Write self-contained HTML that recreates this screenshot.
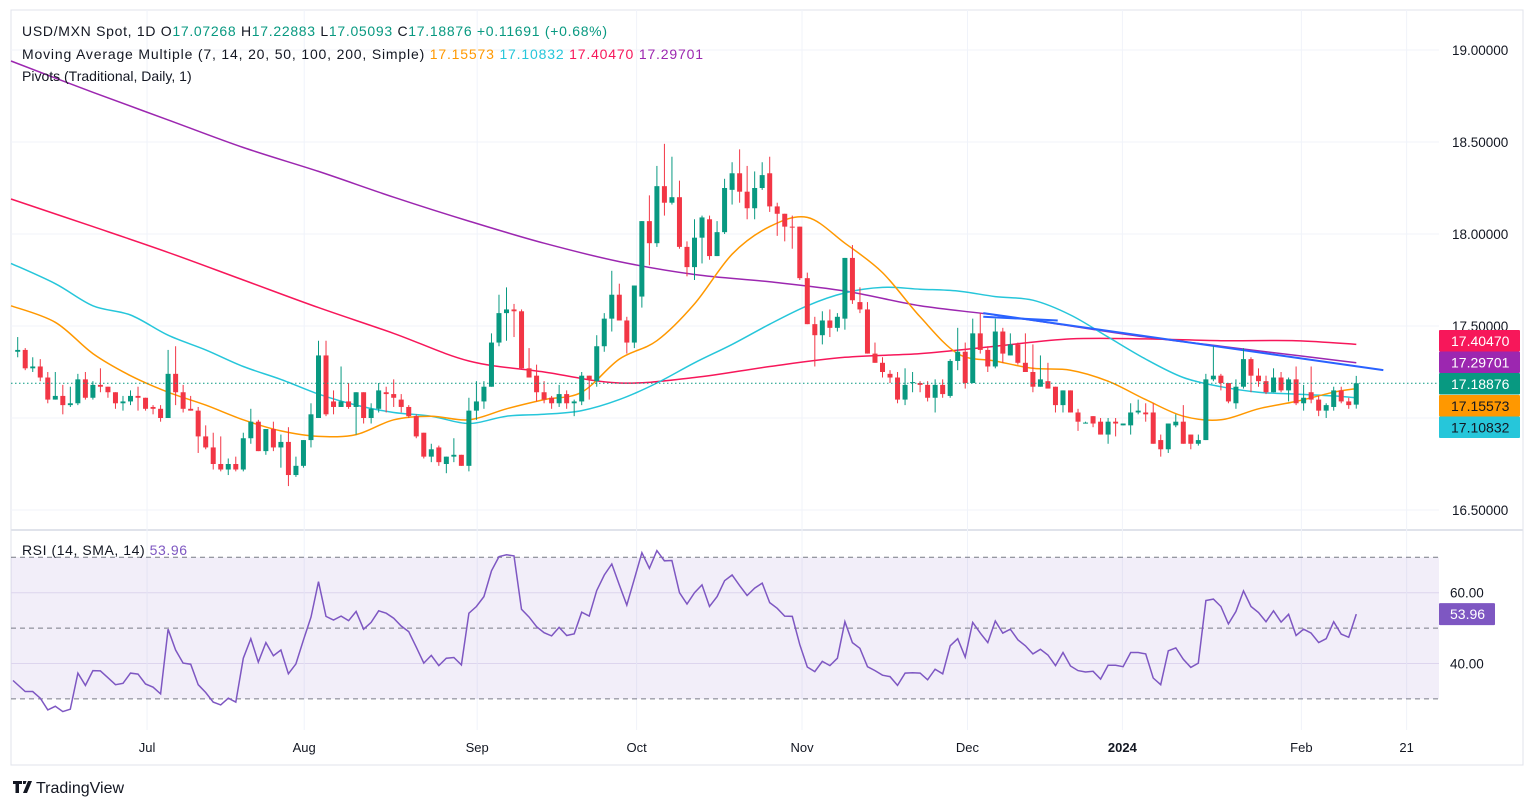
<!DOCTYPE html>
<html><head><meta charset="utf-8"><title>USD/MXN Daily</title>
<style>
html,body{margin:0;padding:0;background:#fff;}
svg{display:block;font-family:"Liberation Sans","DejaVu Sans",sans-serif;}
</style></head>
<body>
<svg id="chart" width="1536" height="810" viewBox="0 0 1536 810" xmlns="http://www.w3.org/2000/svg">
<rect x="0" y="0" width="1536" height="810" fill="#ffffff"/>
<g id="grid"></g>
<rect x="11" y="557.3" width="1428" height="141.7" fill="rgba(126,87,194,0.1)"/>
<g id="rsiGuides"></g>
<g id="mas"></g>
<g id="candles"></g>
<g id="rsi"></g>
<g id="axes"></g>
<g id="legend">
 <text x="22" y="36" font-size="14" fill="#131722" textLength="585" lengthAdjust="spacing">USD/MXN Spot, 1D  <tspan fill="#131722">O</tspan><tspan fill="#089981">17.07268</tspan>  <tspan fill="#131722">H</tspan><tspan fill="#089981">17.22883</tspan>  <tspan fill="#131722">L</tspan><tspan fill="#089981">17.05093</tspan>  <tspan fill="#131722">C</tspan><tspan fill="#089981">17.18876</tspan>  <tspan fill="#089981">+0.11691 (+0.68%)</tspan></text>
 <text x="22" y="59" font-size="14" fill="#131722" textLength="681" lengthAdjust="spacing">Moving Average Multiple (7, 14, 20, 50, 100, 200, Simple)  <tspan fill="#FF9800">17.15573</tspan>  <tspan fill="#26C6DA">17.10832</tspan>  <tspan fill="#F7175A">17.40470</tspan>  <tspan fill="#9C27B0">17.29701</tspan></text>
 <text x="22" y="81" font-size="14" fill="#131722">Pivots (Traditional, Daily, 1)</text>
 <text x="22" y="555" font-size="14" fill="#131722" textLength="165" lengthAdjust="spacing">RSI (14, SMA, 14)  <tspan fill="#7E57C2">53.96</tspan></text>
</g>
<g>
 <path d="M13 781h9v3h-3v9h-3.5v-9H13z M23 781h3.5l-1 3h-2.5z M28 781h4l-5 12h-4z" fill="#131722"/>
 <text x="36" y="793" font-size="16" fill="#131722">TradingView</text>
</g>
</svg>
<script>
// ---- data ----
const opens = [17.36,17.37,17.27,17.28,17.22,17.10,17.12,17.07,17.08,17.21,
17.11,17.18,17.17,17.14,17.08,17.09,17.12,17.11,17.06,17.05,
17.00,17.24,17.14,17.05,17.04,16.90,16.84,16.75,16.72,16.75,
16.72,16.89,16.98,16.82,16.94,16.84,16.87,16.69,16.74,16.88,
17.00,17.34,17.09,17.06,17.09,17.06,17.14,17.00,17.05,17.14,
17.13,17.10,17.06,17.01,16.92,16.79,16.84,16.75,16.79,16.80,
16.74,17.04,17.09,17.17,17.41,17.57,17.59,17.58,17.27,17.23,
17.14,17.11,17.08,17.13,17.08,17.09,17.23,17.20,17.39,17.54,
17.67,17.53,17.41,17.66,18.07,17.95,18.26,18.17,18.20,17.93,
17.82,17.98,18.08,17.88,18.01,18.24,18.33,18.23,18.14,18.25,
18.33,18.15,18.11,18.04,18.04,17.76,17.51,17.45,17.53,17.49,
17.54,17.87,17.63,17.59,17.35,17.30,17.24,17.22,17.10,17.19,
17.19,17.18,17.11,17.18,17.12,17.31,17.36,17.19,17.46,17.37,
17.28,17.47,17.34,17.40,17.30,17.25,17.17,17.20,17.17,17.07,
17.15,17.03,16.97,17.01,16.98,16.91,16.98,16.96,16.96,17.03,
17.03,17.03,16.88,16.83,16.96,16.98,16.91,16.86,16.88,17.21,
17.23,17.19,17.08,17.17,17.32,17.23,17.20,17.14,17.22,17.15,
17.21,17.08,17.14,17.10,17.04,17.06,17.15,17.09,17.07268];
const highs = [17.44,17.38,17.33,17.32,17.25,17.25,17.18,17.17,17.24,17.25,
17.20,17.27,17.17,17.14,17.12,17.15,17.17,17.11,17.07,17.07,
17.37,17.39,17.18,17.12,17.06,16.96,16.92,16.90,16.78,16.79,
16.92,17.05,16.99,16.94,16.98,16.91,16.95,16.79,16.88,17.08,
17.42,17.42,17.15,17.28,17.19,17.14,17.14,17.08,17.19,17.17,
17.21,17.13,17.07,17.02,16.92,16.86,16.85,16.79,16.89,16.80,
17.11,17.20,17.20,17.46,17.67,17.71,17.62,17.59,17.38,17.29,
17.20,17.12,17.18,17.15,17.10,17.25,17.23,17.45,17.57,17.80,
17.73,17.55,17.72,18.07,18.21,18.37,18.49,18.42,18.29,17.96,
18.08,18.10,18.10,18.07,18.30,18.39,18.46,18.37,18.34,18.39,
18.42,18.17,18.11,18.10,18.04,17.79,17.55,17.58,17.59,17.57,
17.87,17.94,17.71,17.63,17.41,17.33,17.26,17.25,17.27,17.25,
17.20,17.20,17.21,17.21,17.32,17.49,17.41,17.54,17.57,17.39,
17.54,17.49,17.46,17.41,17.46,17.40,17.34,17.30,17.17,17.15,
17.15,17.05,16.98,17.01,17.00,17.00,17.00,16.97,17.08,17.10,
17.08,17.08,16.91,16.97,17.02,17.07,16.91,16.91,17.24,17.39,
17.24,17.19,17.21,17.38,17.33,17.27,17.23,17.27,17.25,17.22,
17.28,17.18,17.28,17.12,17.08,17.17,17.17,17.11,17.22883];
const lows = [17.33,17.26,17.25,17.20,17.08,17.10,17.02,17.06,17.07,17.10,
17.10,17.14,17.11,17.05,17.04,17.07,17.04,17.04,17.02,16.98,
17.00,17.07,17.03,17.04,16.81,16.83,16.72,16.71,16.69,16.71,
16.71,16.86,16.82,16.80,16.82,16.73,16.63,16.68,16.73,16.84,
17.00,17.01,17.02,17.06,17.05,16.91,16.97,16.97,17.03,17.03,
17.06,17.03,17.00,16.89,16.78,16.76,16.74,16.70,16.76,16.74,
16.71,16.99,17.05,17.17,17.39,17.42,17.44,17.27,17.22,17.09,
17.08,17.05,17.06,17.05,17.01,17.07,17.10,17.17,17.36,17.47,
17.53,17.35,17.38,17.60,17.83,17.93,18.10,18.16,17.92,17.77,
17.75,17.84,17.86,17.88,18.00,18.16,18.17,18.08,18.08,18.24,
18.12,17.99,17.96,17.92,17.75,17.51,17.28,17.40,17.44,17.47,
17.48,17.62,17.57,17.35,17.30,17.22,17.19,17.08,17.07,17.14,
17.14,17.09,17.03,17.11,17.11,17.26,17.16,17.19,17.35,17.25,
17.27,17.30,17.34,17.29,17.25,17.14,17.17,17.16,17.03,17.03,
17.03,16.93,16.97,16.95,16.91,16.86,16.90,16.96,16.91,17.02,
16.98,16.86,16.79,16.81,16.95,16.86,16.83,16.85,16.88,17.20,
17.15,17.08,17.05,17.16,17.14,17.17,17.13,17.14,17.14,17.09,
17.07,17.04,17.08,17.01,17.00,17.04,17.08,17.05,17.05093];
const closes = [17.37,17.27,17.28,17.22,17.10,17.12,17.07,17.08,17.21,17.11,
17.18,17.17,17.14,17.08,17.09,17.12,17.11,17.05,17.05,17.00,
17.24,17.14,17.05,17.04,16.90,16.84,16.75,16.72,16.75,16.72,
16.89,16.98,16.82,16.94,16.84,16.87,16.69,16.74,16.88,17.02,
17.34,17.02,17.06,17.09,17.06,17.14,17.00,17.05,17.15,17.13,
17.11,17.06,17.01,16.90,16.79,16.83,16.76,16.79,16.80,16.74,
17.04,17.09,17.17,17.41,17.57,17.59,17.58,17.27,17.22,17.14,
17.10,17.08,17.13,17.08,17.09,17.23,17.21,17.39,17.54,17.67,
17.53,17.41,17.72,18.07,17.95,18.26,18.17,18.20,17.93,17.82,
17.98,18.09,17.88,18.01,18.25,18.33,18.23,18.14,18.25,18.32,
18.15,18.11,18.04,18.035,17.76,17.51,17.45,17.53,17.49,17.55,
17.87,17.64,17.59,17.35,17.30,17.25,17.22,17.10,17.18,17.195,
17.18,17.11,17.18,17.13,17.31,17.36,17.19,17.46,17.37,17.28,
17.47,17.35,17.40,17.30,17.25,17.17,17.21,17.16,17.07,17.15,
17.03,16.98,16.975,16.97,16.91,16.98,16.97,16.97,17.03,17.04,
17.02,16.86,16.83,16.97,16.98,16.86,16.86,16.88,17.21,17.23,
17.19,17.09,17.17,17.32,17.23,17.20,17.14,17.22,17.15,17.21,
17.08,17.11,17.10,17.04,17.07,17.15,17.09,17.07,17.18876];
const rsiValues = [35.2,32.1,32.1,30.2,26.9,27.9,26.4,27.1,37.3,33.8,
38.0,37.9,36.0,34.0,34.4,37.3,37.0,34.2,33.3,31.4,
49.7,43.8,40.1,39.8,34.0,31.8,29.1,28.3,30.2,29.1,
41.5,47.0,40.4,45.9,42.2,43.8,37.1,39.9,46.7,53.1,
63.1,53.3,52.3,53.4,52.1,54.7,49.7,51.6,54.9,54.2,
52.8,50.6,49.0,44.6,40.1,42.3,39.4,41.5,41.7,39.6,
54.2,56.1,58.9,66.2,70.2,70.7,70.4,55.3,53.1,50.4,
48.7,47.8,50.2,47.9,48.4,54.5,53.4,60.6,65.0,68.1,
62.2,56.5,63.8,71.3,66.9,71.9,69.0,69.1,60.0,56.8,
60.0,62.2,56.1,58.9,63.4,65.0,62.0,59.2,61.3,62.7,
57.2,55.6,53.4,53.3,45.3,39.0,37.7,40.6,39.4,41.5,
51.8,45.9,44.3,39.1,38.0,36.7,36.3,33.8,37.3,37.4,
37.3,35.4,38.4,37.1,45.0,47.0,41.8,51.6,48.6,45.9,
52.0,48.6,49.7,46.7,45.0,42.7,44.0,42.4,39.4,43.1,
39.3,38.0,37.6,37.8,35.6,39.5,39.5,39.1,43.1,43.1,
42.7,35.9,34.0,43.6,44.4,41.2,38.9,40.1,57.8,58.2,
56.1,51.2,54.7,60.5,56.1,54.4,51.8,54.9,51.7,53.9,
47.9,49.7,48.6,45.9,47.0,51.8,48.3,47.4,53.96];
const maIdxFine = [0,5,10,15,20,25,30,35,40,45,50,55,60,65,70,75,80,85,90,95,100,105,110,115,120,125,130,135,140,145,150,155,160,165,170,175,178];
const sma20 = [17.61,17.52,17.35,17.23,17.14,17.07,16.99,16.93,16.90,16.91,16.99,17.01,16.99,17.05,17.10,17.14,17.32,17.42,17.62,17.89,18.04,18.09,17.95,17.79,17.55,17.35,17.31,17.27,17.26,17.20,17.10,17.01,16.99,17.05,17.09,17.14,17.16];
const sma50 = [17.84,17.73,17.61,17.56,17.45,17.37,17.28,17.21,17.13,17.07,17.03,17.01,16.97,17.01,17.02,17.04,17.10,17.19,17.30,17.40,17.51,17.61,17.68,17.71,17.70,17.69,17.66,17.64,17.56,17.44,17.32,17.22,17.17,17.14,17.13,17.12,17.11];
const maIdxCoarse = [0,10,20,30,40,50,60,70,80,90,100,110,120,130,140,150,160,170,178];
const sma100 = [18.19,18.04,17.90,17.75,17.60,17.46,17.31,17.25,17.19,17.22,17.28,17.33,17.35,17.39,17.43,17.43,17.42,17.42,17.40];
const sma200 = [18.94,18.77,18.62,18.47,18.34,18.20,18.07,17.95,17.85,17.78,17.74,17.69,17.61,17.56,17.50,17.44,17.39,17.34,17.30];
const trendIdx = [128.4,181.6];
const trendVals = [17.57,17.26];
const trend2Idx = [128.4,138.3];
const trend2Vals = [17.55,17.53];
const priceTicks = [19.0,18.5,18.0,17.5,16.5];
const rsiTicks = [60,40];
const monthLabels = ["Jul","Aug","Sep","Oct","Nov","Dec","2024","Feb","21"];
const monthIdx = [17.2,38.1,61.1,82.3,104.3,126.3,146.9,170.7,184.7];

// ---- scales ----
const NS = "http://www.w3.org/2000/svg";
function xOf(k){ return 17.7 + 7.52*k; }
function yP(p){ return 50 + (19 - p)*184; }
function yR(v){ return 557.3 + (70 - v)*3.54; }
function mk(tag, attrs, parent){
  const e = document.createElementNS(NS, tag);
  for (const a in attrs) e.setAttribute(a, attrs[a]);
  parent.appendChild(e);
  return e;
}
const gGrid = document.getElementById('grid');
const gMas = document.getElementById('mas');
const gC = document.getElementById('candles');
const gR = document.getElementById('rsi');
const gAx = document.getElementById('axes');
const gRG = document.getElementById('rsiGuides');

let fr = mk('rect', {x:11, y:10, width:1512, height:755, fill:'none', stroke:'#E0E3EB', 'stroke-width':1}, gGrid);


let sep = mk('line', {x1:11, x2:1523, y1:530, y2:530, stroke:'#E0E3EB', 'stroke-width':2}, gGrid);



[19.0,18.5,18.0,17.5,17.0,16.5].forEach(p=>{
  const l = mk('line', {x1:11, x2:1439, y1:yP(p), y2:yP(p), stroke:'#F0F3FA', 'stroke-width':1}, gGrid);
  
  
});
rsiTicks.forEach(v=>{
  const l = mk('line', {x1:11, x2:1439, y1:yR(v), y2:yR(v), stroke:'#E8E4F3', 'stroke-width':1}, gGrid);
  
  
});
monthLabels.forEach((m,i)=>{
  const x = xOf(monthIdx[i]);
  const l = mk('line', {x1:x, x2:x, y1:10, y2:730, stroke:'#F0F3FA', 'stroke-width':1}, gGrid);
  
  
  const t = mk('text', {x:x, y:752, 'font-size':13, fill:'#131722', 'text-anchor':'middle', 'font-weight': m==='2024'?'bold':'normal'}, gAx);
  t.textContent = m;
  
  
});
[70,50,30].forEach(v=>{
  const l = mk('line', {x1:11, x2:1439, y1:yR(v), y2:yR(v), stroke:'#787B86', 'stroke-width':1, 'stroke-dasharray':'5 4'}, gRG);
  
  
});

function smoothPath(xs, ys){
  let d = 'M' + xs[0].toFixed(1) + ' ' + ys[0].toFixed(1);
  for (let i=0;i<xs.length-1;i++){
    const x0 = xs[Math.max(0,i-1)], y0 = ys[Math.max(0,i-1)];
    const x1 = xs[i], y1 = ys[i], x2 = xs[i+1], y2 = ys[i+1];
    const x3 = xs[Math.min(xs.length-1,i+2)], y3 = ys[Math.min(xs.length-1,i+2)];
    const c1x = x1 + (x2-x0)/6, c1y = y1 + (y2-y0)/6;
    const c2x = x2 - (x3-x1)/6, c2y = y2 - (y3-y1)/6;
    d += ' C' + c1x.toFixed(1)+' '+c1y.toFixed(1)+' '+c2x.toFixed(1)+' '+c2y.toFixed(1)+' '+x2.toFixed(1)+' '+y2.toFixed(1);
  }
  return d;
}
function drawMA(idx, vals, color, name){
  const xs = idx.map(k=>xOf(k)); xs[0] = 11;
  const ys = vals.map(v=>yP(v));
  const p = mk('path', {d:smoothPath(xs, ys), fill:'none', stroke:color, 'stroke-width':1.5}, gMas);
  
  
}
drawMA(maIdxCoarse, sma200, '#9C27B0', 'sma200-line');
drawMA(maIdxCoarse, sma100, '#F7175A', 'sma100-line');
drawMA(maIdxFine, sma50, '#26C6DA', 'sma50-line');
drawMA(maIdxFine, sma20, '#FF9800', 'sma20-line');
let tl = mk('line', {x1:xOf(trendIdx[0]), y1:yP(trendVals[0]), x2:xOf(trendIdx[1]), y2:yP(trendVals[1]), stroke:'#2962FF', 'stroke-width':2}, gMas);


let tl2 = mk('line', {x1:xOf(trend2Idx[0]), y1:yP(trend2Vals[0]), x2:xOf(trend2Idx[1]), y2:yP(trend2Vals[1]), stroke:'#2962FF', 'stroke-width':2}, gMas);



for (let k=0;k<closes.length;k++){
  const up = closes[k] >= opens[k];
  const col = up ? '#089981' : '#F23645';
  const x = xOf(k);
  const w = mk('line', {x1:x, x2:x, y1:yP(highs[k]), y2:yP(lows[k]), stroke:col, 'stroke-width':1}, gC);
  
  
  const top = yP(Math.max(opens[k], closes[k]));
  const h = Math.max(1, yP(Math.min(opens[k], closes[k])) - top);
  const b = mk('rect', {x:x-2.5, y:top, width:5, height:h, fill:col}, gC);
  
  
}
const lastClose = closes[closes.length-1];
let lp = mk('line', {x1:11, x2:1439, y1:yP(lastClose), y2:yP(lastClose), stroke:'#089981', 'stroke-width':1, 'stroke-dasharray':'1.5 2.5'}, gC);



const rx = rsiValues.map((v,k)=>xOf(k)); rx[0] = 13;
let rd = 'M' + rx.map((x,k)=>x.toFixed(1)+' '+yR(rsiValues[k]).toFixed(1)).join(' L');
let rl = mk('path', {d:rd, fill:'none', stroke:'#7E57C2', 'stroke-width':1.5}, gR);



priceTicks.forEach(p=>{
  const t = mk('text', {x:1452, y:yP(p)+5, 'font-size':13.5, fill:'#131722'}, gAx);
  t.textContent = p.toFixed(5);
  
  
});
rsiTicks.forEach(v=>{
  const t = mk('text', {x:1450, y:yR(v)+5, 'font-size':13.5, fill:'#131722'}, gAx);
  t.textContent = v.toFixed(2);
  
  
});
const badgeText = ["17.40470","17.29701","17.18876","17.15573","17.10832"];
const badgeFill = ['#F7175A','#9C27B0','#089981','#FF9800','#26C6DA'];
const badgeInk = ['#ffffff','#ffffff','#ffffff','#131722','#131722'];
const badgeY = [330,351.5,373,395,416.5];
badgeText.forEach((s,i)=>{
  const r = mk('rect', {x:1439, y:badgeY[i], width:81, height:21.5, fill:badgeFill[i], rx:1}, gAx);
  
  
  const t = mk('text', {x:1451, y:badgeY[i]+16, 'font-size':14, fill:badgeInk[i]}, gAx);
  t.textContent = s;
  
  
});
const lastRsi = rsiValues[rsiValues.length-1];
let rb = mk('rect', {x:1439, y:yR(lastRsi)-11, width:56, height:22, fill:'#7E57C2', rx:1}, gAx);


let rbt = mk('text', {x:1450, y:yR(lastRsi)+5, 'font-size':14, fill:'#ffffff'}, gAx);
rbt.textContent = lastRsi.toFixed(2);


</script>
</body></html>
